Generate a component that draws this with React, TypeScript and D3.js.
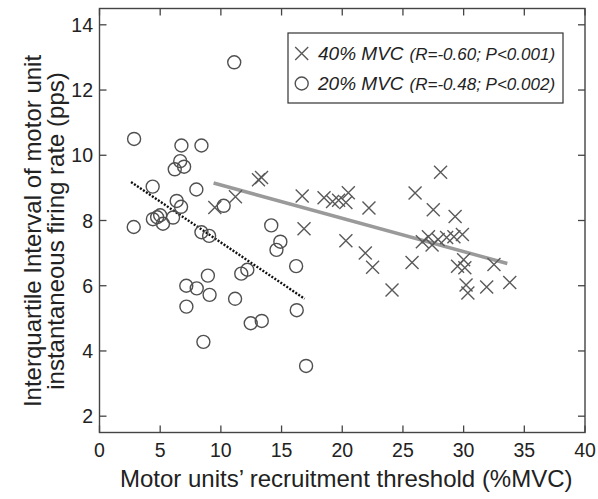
import React from "react";
import * as d3 from "d3";

const xTicks = [0, 5, 10, 15, 20, 25, 30, 35, 40];
const yTicks = [2, 4, 6, 8, 10, 12, 14];

// 20% MVC (circles): [threshold, IQR]
const mvc20X = [2.85, 6.75, 8.4, 6.2, 6.65, 6.97, 4.38, 7.98, 6.36, 6.72, 10.23, 2.82, 4.4, 4.75, 5.0, 5.23, 6.06, 8.4, 9.03, 14.15, 14.9, 14.58, 16.2, 7.15, 8.01, 8.93, 9.07, 7.16, 11.68, 12.18, 11.17, 12.46, 13.37, 16.25, 8.56, 17.02, 11.1];
const mvc20Y = [10.5, 10.3, 10.3, 9.57, 9.82, 9.65, 9.04, 8.95, 8.6, 8.42, 8.45, 7.8, 8.04, 8.1, 8.16, 7.9, 8.09, 7.64, 7.53, 7.85, 7.35, 7.1, 6.6, 6.0, 5.92, 6.31, 5.72, 5.36, 6.37, 6.49, 5.6, 4.85, 4.92, 5.25, 4.28, 3.54, 12.85];

// 40% MVC (crosses)
const mvc40X = [9.5, 11.2, 13.1, 13.35, 16.7, 16.85, 18.5, 19.2, 19.7, 20.3, 20.5, 20.3, 21.9, 22.2, 22.5, 24.1, 25.75, 26.0, 26.6, 27.1, 27.4, 27.5, 27.9, 28.1, 28.6, 29.2, 29.3, 29.5, 29.9, 30.0, 30.1, 30.2, 30.35, 31.9, 32.5, 33.8];
const mvc40Y = [8.4, 8.73, 9.25, 9.32, 8.75, 7.75, 8.7, 8.58, 8.62, 8.55, 8.85, 7.38, 7.0, 8.38, 6.57, 5.87, 6.71, 8.84, 7.35, 7.5, 7.25, 8.33, 7.42, 9.48, 7.48, 7.5, 8.12, 6.6, 7.57, 6.8, 6.55, 6.02, 5.78, 5.96, 6.65, 6.1];

// regression line end points
const fit40X = [9.4, 33.6];
const fit40Y = [9.15, 6.68];
const fit20X = [2.6, 16.9];
const fit20Y = [9.18, 5.6];

const legendMain = ["40% MVC", "20% MVC"];
const legendStats = ["(R=-0.60; P<0.001)", "(R=-0.48; P<0.002)"];

const xTitle = "Motor units\u2019 recruitment threshold (%MVC)";
const yTitle1 = "Interquartile Interval of motor unit";
const yTitle2 = "instantaneous firing rate (pps)";

const W = 598;
const H = 499;
const L = 99.5, R = 585, T = 8.5, B = 432.5;
const FONT = "'Liberation Sans', Arial, Helvetica, sans-serif";
const AX = "#444";

export default function App() {
  const x = d3.scaleLinear().domain([0, 40]).range([L, R]);
  const y = d3.scaleLinear().domain([1.5, 14.5]).range([B, T]);
  const line = d3.line<[number, number]>().x(d => x(d[0])).y(d => y(d[1]));
  const fit40 = line(fit40X.map((v, i) => [v, fit40Y[i]]) as [number, number][]) || "";
  const fit20 = line(fit20X.map((v, i) => [v, fit20Y[i]]) as [number, number][]) || "";
  const cs = 6.5;
  const cross = (cx: number, cy: number, k: string) => (
    <path key={k} d={`M${cx - cs},${cy - cs}L${cx + cs},${cy + cs}M${cx - cs},${cy + cs}L${cx + cs},${cy - cs}`} stroke="#5a5a5a" strokeWidth={1.4} fill="none" />
  );
  const tl = 7;
  return (
    <svg width={W} height={H} style={{ position: "absolute", left: 0, top: 0, background: "#fff" }} fontFamily={FONT}>
      <rect x={0} y={0} width={W} height={H} fill="#fff" />
      {/* frame */}
      <rect x={L} y={T} width={R - L} height={B - T} fill="none" stroke={AX} strokeWidth={1.4} />
      {xTicks.map(t => (
        <g key={"xt" + t}>
          <line x1={x(t)} x2={x(t)} y1={B} y2={B - tl} stroke={AX} strokeWidth={1.3} />
          <line x1={x(t)} x2={x(t)} y1={T} y2={T + tl} stroke={AX} strokeWidth={1.3} />
          <text x={x(t)} y={457} textAnchor="middle" fontSize={19.5} fill="#222">{t}</text>
        </g>
      ))}
      {yTicks.map(t => (
        <g key={"yt" + t}>
          <line x1={L} x2={L + tl} y1={y(t)} y2={y(t)} stroke={AX} strokeWidth={1.3} />
          <line x1={R} x2={R - tl} y1={y(t)} y2={y(t)} stroke={AX} strokeWidth={1.3} />
          <text x={93} y={y(t) + 7} textAnchor="end" fontSize={19.5} fill="#222">{t}</text>
        </g>
      ))}
      {/* regression lines */}
      <path d={fit40} stroke="#9a9a9a" strokeWidth={3.5} fill="none" />
      <path d={fit20} stroke="#111" strokeWidth={2.4} strokeDasharray="2 1.6" fill="none" />
      {/* points */}
      {mvc20X.map((v, i) => (
        <circle key={"c" + i} cx={x(v)} cy={y(mvc20Y[i])} r={6.5} fill="none" stroke="#505050" strokeWidth={1.4} />
      ))}
      {mvc40X.map((v, i) => cross(x(v), y(mvc40Y[i]), "x" + i))}
      {/* legend */}
      <rect x={288} y={33} width={275} height={70} fill="#fff" stroke="#333" strokeWidth={1.2} />
      {cross(301.7, 53.5, "lx")}
      <circle cx={301.7} cy={83.5} r={6.5} fill="none" stroke="#505050" strokeWidth={1.4} />
      {legendMain.map((m, i) => (
        <text key={"lg" + i} x={318} y={60 + i * 30} fontStyle="italic" fill="#222">
          <tspan fontSize={19}>{m}</tspan>
          <tspan fontSize={17} dx={6}>{legendStats[i]}</tspan>
        </text>
      ))}
      {/* axis titles */}
      <text x={(L + R) / 2 + 4} y={486.5} textAnchor="middle" fontSize={24} fill="#222">{xTitle}</text>
      <text transform={`translate(41,231) rotate(-90)`} textAnchor="middle" fontSize={24} fill="#222">{yTitle1}</text>
      <text transform={`translate(64,231) rotate(-90)`} textAnchor="middle" fontSize={24} fill="#222">{yTitle2}</text>
    </svg>
  );
}
